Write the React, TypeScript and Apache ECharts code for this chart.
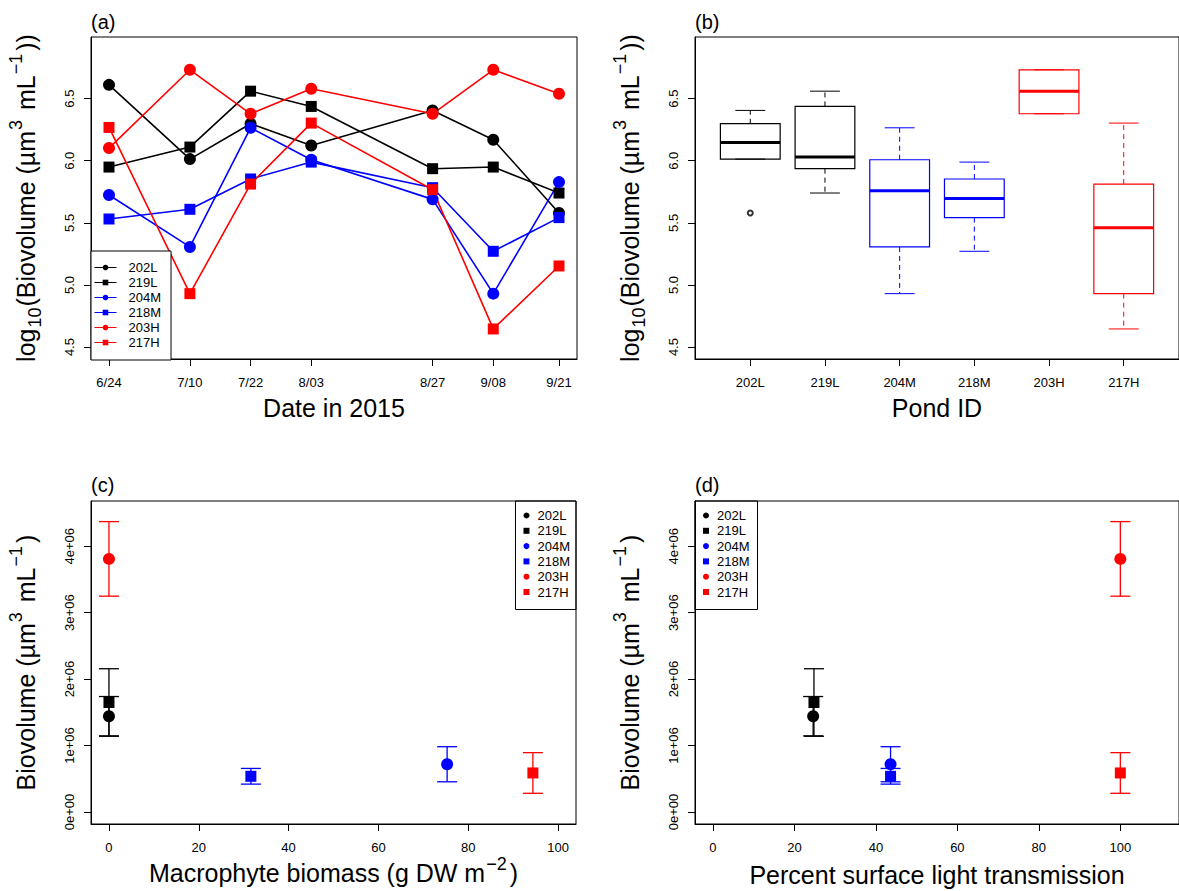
import React, { useEffect, useRef } from "react";
import * as echarts from "echarts";

const FONT = '"Liberation Sans", Arial, Helvetica, sans-serif';

// ---------- data ----------
const ponds = ["202L", "219L", "204M", "218M", "203H", "217H"];
const pondColors = ["#000000", "#000000", "#0000ff", "#0000ff", "#ff0000", "#ff0000"];
const pondSymbols = ["circle", "rect", "circle", "rect", "circle", "rect"];

const dateLabels = ["6/24", "7/10", "7/22", "8/03", "8/27", "9/08", "9/21"];
const samplingDay = [0, 16, 28, 40, 64, 76, 89]; // days after 24 June 2015

// log10 biovolume per sampling date
const log202L = [6.611, 6.013, 6.298, 6.123, 6.405, 6.169, 5.579];
const log219L = [5.949, 6.11, 6.56, 6.437, 5.936, 5.949, 5.74];
const log204M = [5.724, 5.306, 6.265, 6.008, 5.689, 4.93, 5.828];
const log218M = [5.531, 5.609, 5.853, 5.989, 5.783, 5.271, 5.542];
const log203H = [6.102, 6.732, 6.378, 6.579, 6.378, 6.732, 6.539];
const log217H = [6.268, 4.93, 5.812, 6.303, 5.767, 4.646, 5.153];
const logSeries = [log202L, log219L, log204M, log218M, log203H, log217H];
// panel (b) summarises the samples from 7/10 onward
const boxplotFromSample = 1;

const logTicks = [4.5, 5.0, 5.5, 6.0, 6.5];

// panels (c), (d): mean biovolume (um3/mL) with standard error
const macrophyteBiomass = [0, 0, 75.3, 31.6, 0, 94.4];
const lightTransmission = [24.6, 24.8, 43.6, 43.6, 100, 100];
const meanBiovolume = [1.442e6, 1.648e6, 0.719e6, 0.538e6, 3.809e6, 0.588e6];
const seBiovolume = [0.296e6, 0.508e6, 0.264e6, 0.118e6, 0.561e6, 0.306e6];
const percentTicks = [0, 20, 40, 60, 80, 100];
const biovolumeTicks = [0, 1e6, 2e6, 3e6, 4e6];

// ---------- helpers ----------
function fivenum(arr: number[]) {
  const x = [...arr].sort((a, b) => a - b);
  const n = x.length;
  const n4 = Math.floor((n + 3) / 2) / 2;
  const d = [1, n4, (n + 1) / 2, n + 1 - n4, n];
  return d.map((v) => 0.5 * (x[Math.floor(v) - 1] + x[Math.ceil(v) - 1]));
}
function boxStats(arr: number[]) {
  const f = fivenum(arr);
  const iqr = f[3] - f[1];
  const loLim = f[1] - 1.5 * iqr;
  const hiLim = f[3] + 1.5 * iqr;
  const inside = arr.filter((v) => v >= loLim && v <= hiLim);
  const out = arr.filter((v) => v < loLim || v > hiLim);
  return {
    lo: Math.min(...inside),
    q1: f[1],
    med: f[2],
    q3: f[3],
    hi: Math.max(...inside),
    out,
  };
}
function sciLabel(v: number) {
  if (v === 0) return "0e+00";
  const e = Math.floor(Math.log10(Math.abs(v)) + 1e-9);
  const m = v / Math.pow(10, e);
  return `${Math.round(m * 1000) / 1000}e+${String(e).padStart(2, "0")}`;
}

const richTitle = {
  n: { fontSize: 25, fontFamily: FONT, color: "#000", verticalAlign: "bottom", padding: [0, 0, 6, 0] },
  sub: { fontSize: 18, fontFamily: FONT, color: "#000", verticalAlign: "bottom", padding: [0, 1, 0, 1] },
  sup: { fontSize: 18, fontFamily: FONT, color: "#000", verticalAlign: "bottom", padding: [0, 3, 19, 1] },
};
const logTitle = "{n|log}{sub|10}{n|(Biovolume (µm}{sup|3}{n| mL}{sup|−1}{n|))}";
const bioTitle = "{n|Biovolume (µm}{sup|3}{n| mL}{sup|−1}{n|)}";
const macroTitle = "{n|Macrophyte biomass (g DW m}{sup|−2}{n|)}";

const tickLabel = { fontSize: 13, fontFamily: FONT, color: "#000" };

function makeYAxis(grid: number, min: number, max: number, ticks: number[], fmt: (v: number) => string, name: string) {
  return {
    gridIndex: grid,
    type: "value",
    min,
    max,
    axisLine: { show: true, onZero: false, lineStyle: { color: "#000", width: 1 } },
    axisTick: { show: true, inside: false, length: 7, customValues: ticks, lineStyle: { color: "#000" } },
    axisLabel: { ...tickLabel, customValues: ticks, rotate: 90, margin: 15, formatter: fmt },
    splitLine: { show: false },
    name,
    nameLocation: "middle",
    nameRotate: 90,
    nameGap: 47,
    nameTextStyle: { fontSize: 25, fontFamily: FONT, color: "#000", rich: richTitle },
  };
}
function makeXAxis(grid: number, min: number, max: number, ticks: number[], fmt: (v: number) => string, name: string, gap: number) {
  return {
    gridIndex: grid,
    type: "value",
    min,
    max,
    axisLine: { show: true, onZero: false, lineStyle: { color: "#000", width: 1 } },
    axisTick: { show: true, inside: false, length: 7, customValues: ticks, lineStyle: { color: "#000" } },
    axisLabel: { ...tickLabel, customValues: ticks, margin: 17, formatter: fmt },
    splitLine: { show: false },
    name,
    nameLocation: "middle",
    nameGap: gap,
    nameTextStyle: { fontSize: 25, fontFamily: FONT, color: "#000", rich: richTitle },
  };
}

function errorBarSeries(xIndex: number, xs: number[]) {
  return {
    type: "custom",
    name: "errorbars" + xIndex,
    xAxisIndex: xIndex,
    yAxisIndex: xIndex,
    z: 1,
    silent: true,
    data: ponds.map((p, i) => [xs[i], meanBiovolume[i], seBiovolume[i]]),
    encode: { x: 0, y: 1 },
    renderItem: (params: any, api: any) => {
      const x = api.value(0);
      const m = api.value(1);
      const s = api.value(2);
      const top = api.coord([x, m + s]);
      const bot = api.coord([x, m - s]);
      const color = pondColors[params.dataIndex];
      const cap = 10;
      const st = { stroke: color, lineWidth: 1.3 };
      return {
        type: "group",
        children: [
          { type: "line", shape: { x1: top[0], y1: top[1], x2: bot[0], y2: bot[1] }, style: st },
          { type: "line", shape: { x1: top[0] - cap, y1: top[1], x2: top[0] + cap, y2: top[1] }, style: st },
          { type: "line", shape: { x1: bot[0] - cap, y1: bot[1], x2: bot[0] + cap, y2: bot[1] }, style: st },
        ],
      };
    },
  };
}

function pointSeries(xIndex: number, xs: number[]) {
  return ponds.map((p, i) => ({
    type: "scatter",
    name: p,
    xAxisIndex: xIndex,
    yAxisIndex: xIndex,
    z: 3,
    silent: true,
    symbol: pondSymbols[i],
    symbolSize: pondSymbols[i] === "circle" ? 12 : 11,
    itemStyle: { color: pondColors[i], opacity: 1 },
    data: [[xs[i], meanBiovolume[i]]],
  }));
}

const legendText = { fontSize: 13, fontFamily: FONT, color: "#000" };

export default function App() {
  const ref = useRef<HTMLDivElement>(null);
  useEffect(() => {
    if (!ref.current) return;
    const chart = echarts.init(ref.current, null, { renderer: "svg" });

    const stats = logSeries.map((s) => boxStats(s.slice(boxplotFromSample)));
    const outliers: number[][] = [];
    stats.forEach((b, i) => b.out.forEach((v) => outliers.push([i + 1, v])));

    const BOX_WIDTH = 0.8;
    const panelLabel = (text: string, x: number, y: number) => ({
      type: "text",
      x,
      y,
      style: { text, fontSize: 20, fontFamily: FONT, fill: "#000", verticalAlign: "middle" },
    });

    const option: any = {
      animation: false,
      backgroundColor: "#ffffff",
      textStyle: { fontFamily: FONT },
      graphic: [
        panelLabel("(a)", 91, 22),
        panelLabel("(b)", 695, 22),
        panelLabel("(c)", 91, 485),
        panelLabel("(d)", 695, 485),
      ],
      grid: [
        { left: 91, top: 37, width: 486, height: 322, show: true, borderColor: "#000", borderWidth: 1, backgroundColor: "transparent" },
        { left: 695, top: 37, width: 486, height: 322, show: true, borderColor: "#000", borderWidth: 1, backgroundColor: "transparent" },
        { left: 91, top: 501, width: 485, height: 323, show: true, borderColor: "#000", borderWidth: 1, backgroundColor: "transparent" },
        { left: 695, top: 501, width: 486, height: 323, show: true, borderColor: "#000", borderWidth: 1, backgroundColor: "transparent" },
      ],
      xAxis: [
        makeXAxis(0, -3.56, 92.56, samplingDay, (v) => dateLabels[samplingDay.indexOf(Math.round(v))] ?? "", "Date in 2015", 36),
        makeXAxis(1, 0.26, 6.74, ponds.map((p, i) => i + 1), (v) => ponds[Math.round(v) - 1] ?? "", "Pond ID", 36),
        makeXAxis(2, -4, 104, percentTicks, (v) => String(v), macroTitle, 24),
        makeXAxis(3, -4.4, 114.4, percentTicks, (v) => String(v), "Percent surface light transmission", 38),
      ],
      yAxis: [
        makeYAxis(0, 4.404, 6.996, logTicks, (v) => v.toFixed(1), logTitle),
        makeYAxis(1, 4.404, 6.996, logTicks, (v) => v.toFixed(1), logTitle),
        makeYAxis(2, -0.18e6, 4.68e6, biovolumeTicks, sciLabel, bioTitle),
        makeYAxis(3, -0.18e6, 4.68e6, biovolumeTicks, sciLabel, bioTitle),
      ],
      legend: [
        {
          left: 91,
          top: 251,
          orient: "vertical",
          data: ponds,
          itemWidth: 22,
          itemHeight: 7,
          itemGap: 2,
          padding: [10, 10, 11, 3],
          borderColor: "#000",
          borderWidth: 1,
          backgroundColor: "#fff",
          selectedMode: false,
          lineStyle: { width: 1 },
          textStyle: { ...legendText, padding: [0, 0, 0, 7] },
        },
        {
          right: 603,
          top: 501,
          orient: "vertical",
          data: ponds.map((p, i) => ({ name: p, icon: pondSymbols[i] })),
          itemWidth: 6,
          itemHeight: 6,
          itemGap: 2.3,
          padding: [8, 6, 11, 8],
          borderColor: "#000",
          borderWidth: 1,
          selectedMode: false,
          textStyle: { ...legendText, padding: [0, 0, 0, 3] },
        },
        {
          left: 695,
          top: 501,
          orient: "vertical",
          data: ponds.map((p, i) => ({ name: p, icon: pondSymbols[i] })),
          itemWidth: 6,
          itemHeight: 6,
          itemGap: 2.3,
          padding: [8, 8, 11, 8],
          borderColor: "#000",
          borderWidth: 1,
          selectedMode: false,
          textStyle: { ...legendText, padding: [0, 0, 0, 3] },
        },
      ],
      series: [
        // (a) time series
        ...ponds.map((p, i) => ({
          type: "line",
          name: p,
          xAxisIndex: 0,
          yAxisIndex: 0,
          silent: true,
          symbol: pondSymbols[i],
          symbolSize: pondSymbols[i] === "circle" ? 12 : 11,
          showAllSymbol: true,
          lineStyle: { color: pondColors[i], width: 1.6 },
          itemStyle: { color: pondColors[i] },
          data: samplingDay.map((d, j) => [d, logSeries[i][j]]),
        })),
        // (b) box plots
        {
          type: "custom",
          name: "boxplot",
          xAxisIndex: 1,
          yAxisIndex: 1,
          silent: true,
          data: stats.map((b, i) => [i + 1, b.lo, b.q1, b.med, b.q3, b.hi]),
          encode: { x: 0, y: [1, 2, 3, 4, 5] },
          renderItem: (params: any, api: any) => {
            const pos = api.value(0);
            const lo = api.value(1);
            const q1 = api.value(2);
            const med = api.value(3);
            const q3 = api.value(4);
            const hi = api.value(5);
            const color = pondColors[params.dataIndex];
            const half = api.size([BOX_WIDTH, 0])[0] / 2;
            const staple = api.size([BOX_WIDTH / 2, 0])[0] / 2;
            const cx = api.coord([pos, med])[0];
            const y = (v: number) => api.coord([pos, v])[1];
            const thin = { stroke: color, lineWidth: 1 };
            const dashed = { stroke: color, lineWidth: 1, lineDash: [5, 4] };
            return {
              type: "group",
              children: [
                { type: "line", shape: { x1: cx, y1: y(q1), x2: cx, y2: y(lo) }, style: dashed },
                { type: "line", shape: { x1: cx, y1: y(q3), x2: cx, y2: y(hi) }, style: dashed },
                { type: "line", shape: { x1: cx - staple, y1: y(lo), x2: cx + staple, y2: y(lo) }, style: thin },
                { type: "line", shape: { x1: cx - staple, y1: y(hi), x2: cx + staple, y2: y(hi) }, style: thin },
                {
                  type: "rect",
                  shape: { x: cx - half, y: y(q3), width: 2 * half, height: y(q1) - y(q3) },
                  style: { stroke: color, lineWidth: 1.2, fill: "none" },
                },
                { type: "line", shape: { x1: cx - half, y1: y(med), x2: cx + half, y2: y(med) }, style: { stroke: color, lineWidth: 3 } },
              ],
            };
          },
        },
        {
          type: "scatter",
          name: "outliers",
          xAxisIndex: 1,
          yAxisIndex: 1,
          silent: true,
          symbol: "emptyCircle",
          symbolSize: 5,
          itemStyle: { color: "#000", borderWidth: 1 },
          data: outliers,
        },
        // (c)
        errorBarSeries(2, macrophyteBiomass),
        ...pointSeries(2, macrophyteBiomass),
        // (d)
        errorBarSeries(3, lightTransmission),
        ...pointSeries(3, lightTransmission),
      ],
    };
    chart.setOption(option);
    return () => chart.dispose();
  }, []);
  return (
    <div
      ref={ref}
      style={{ position: "absolute", left: 0, top: 0, width: 1179, height: 891, background: "#fff" }}
    />
  );
}
